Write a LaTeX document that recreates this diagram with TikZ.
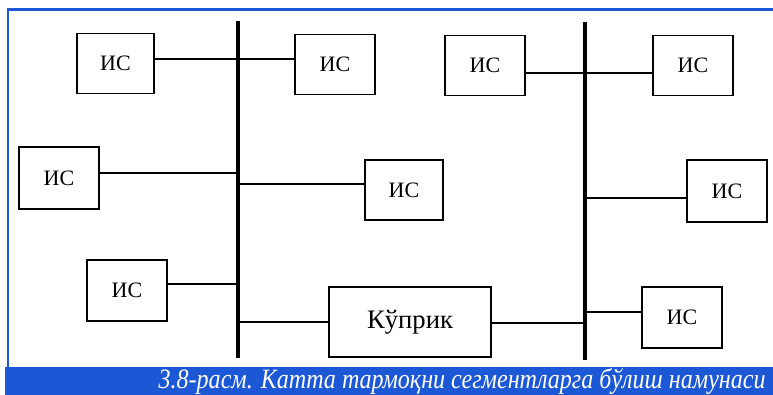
\documentclass[tikz,border=0pt]{standalone}
\usepackage{fontspec}
\setmainfont{Liberation Serif}
\usepackage{tikz}

\definecolor{frameblue}{RGB}{28,88,214}
\tikzset{
	isbox/.style={draw, line width=1.4pt, fill=white, minimum width=60pt, minimum height=45pt, inner sep=0pt, font=\fontsize{16.5}{16.5}\selectfont},
	busline/.style={line width=2.6pt},
	link/.style={line width=1.4pt}
}

\begin{document}
\begin{tikzpicture}[x=0.75pt,y=0.75pt,yscale=-1,xscale=1]
	\useasboundingbox (0,0) rectangle (773,395);
	
	%Shape: Frame
	\draw [frameblue, line width=2.2pt] (8,368) -- (8,9.5) -- (773,9.5) ;
	%Shape: Caption band
	\fill [frameblue] (5,367) rectangle (773,395) ;
	
	% bus coordinates
	\coordinate (busLtop) at (238,21) ;
	\coordinate (busLbot) at (238,358) ;
	\coordinate (busRtop) at (585,22) ;
	\coordinate (busRbot) at (585,360) ;
	\draw [busline] (busLtop) -- (busLbot) ;
	\draw [busline] (busRtop) -- (busRbot) ;
	
	% Text Node
	\node [isbox, minimum width=57.75pt] (is1) at (115.5,63.5) {ИС};
	% Text Node
	\node [isbox] (is2) at (335,64.5) {ИС};
	% Text Node
	\node [isbox] (is3) at (485,65.5) {ИС};
	% Text Node
	\node [isbox] (is4) at (693,65.5) {ИС};
	% Text Node
	\node [isbox, minimum height=46.5pt] (is5) at (59,178) {ИС};
	% Text Node
	\node [isbox, minimum width=58.5pt] (is6) at (404,190) {ИС};
	% Text Node
	\node [isbox, minimum height=46.5pt] (is7) at (727,191) {ИС};
	% Text Node
	\node [isbox, minimum height=45.75pt] (is8) at (127,290.5) {ИС};
	% Text Node
	\node [isbox, minimum width=121.5pt, minimum height=53pt, font=\fontsize{20}{20}\selectfont] (bridge) at (410,322) {Кўприк};
	% Text Node
	\node [isbox, minimum height=45.75pt] (is9) at (682,317.5) {ИС};
	
	% taps on the buses
	\coordinate (t1) at (238,59) ;
	\coordinate (t5) at (238,173) ;
	\coordinate (t6) at (238,184) ;
	\coordinate (t8) at (238,284) ;
	\coordinate (tb1) at (238,322) ;
	\coordinate (t3) at (585,73) ;
	\coordinate (t7) at (585,198) ;
	\coordinate (t9) at (585,312) ;
	\coordinate (tb2) at (585,323) ;
	
	\draw [link] (t1 -| is1.east) -- (t1 -| is2.west) ;
	\draw [link] (t5 -| is5.east) -- (t5) ;
	\draw [link] (t6) -- (t6 -| is6.west) ;
	\draw [link] (t8 -| is8.east) -- (t8) ;
	\draw [link] (tb1) -- (tb1 -| bridge.west) ;
	\draw [link] (tb2 -| bridge.east) -- (tb2) ;
	\draw [link] (t3 -| is3.east) -- (t3 -| is4.west) ;
	\draw [link] (t7) -- (t7 -| is7.west) ;
	\draw [link] (t9) -- (t9 -| is9.west) ;
	
	% Caption
	\node [anchor=east, white, inner sep=0pt, font=\fontsize{21}{21}\selectfont\itshape] (caption) at (766,381.5) {\scalebox{0.86}[1]{3.8-расм. Катта тармоқни сегментларга бўлиш намунаси}};
	
\end{tikzpicture}
\end{document}
